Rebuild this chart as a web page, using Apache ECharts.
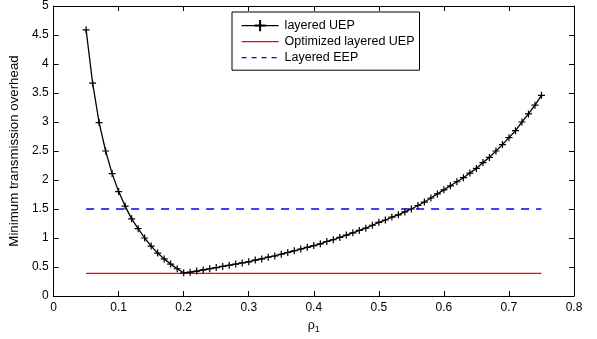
<!DOCTYPE html>
<html lang="en">
<head>
  <meta charset="UTF-8">
  <title>Minimum transmission overhead vs rho1</title>
  <script src="https://cdn.jsdelivr.net/npm/echarts@6/dist/echarts.min.js"></script>
  <style>
    body { margin: 0; background: #ffffff; }
    #main { width: 597px; height: 339px; }
  </style>
</head>
<body>
  <div id="main"></div>
  <script>
    // rho_1 sample points (x)
    var rho = [0.05, 0.06, 0.07, 0.08, 0.09, 0.10, 0.11, 0.12, 0.13, 0.14,
               0.15, 0.16, 0.17, 0.18, 0.19, 0.20, 0.21, 0.22, 0.23, 0.24,
               0.25, 0.26, 0.27, 0.28, 0.29, 0.30, 0.31, 0.32, 0.33, 0.34,
               0.35, 0.36, 0.37, 0.38, 0.39, 0.40, 0.41, 0.42, 0.43, 0.44,
               0.45, 0.46, 0.47, 0.48, 0.49, 0.50, 0.51, 0.52, 0.53, 0.54,
               0.55, 0.56, 0.57, 0.58, 0.59, 0.60, 0.61, 0.62, 0.63, 0.64,
               0.65, 0.66, 0.67, 0.68, 0.69, 0.70, 0.71, 0.72, 0.73, 0.74,
               0.75];
    // layered UEP overhead
    var layeredUEP = [4.59, 3.67, 2.99, 2.50, 2.11, 1.80, 1.55, 1.33, 1.16, 1.00,
                      0.86, 0.74, 0.64, 0.55, 0.47, 0.40, 0.41, 0.43, 0.45, 0.47,
                      0.49, 0.51, 0.53, 0.55, 0.57, 0.59, 0.62, 0.64, 0.67, 0.69,
                      0.72, 0.75, 0.78, 0.81, 0.84, 0.87, 0.90, 0.94, 0.97, 1.01,
                      1.05, 1.09, 1.13, 1.17, 1.22, 1.27, 1.31, 1.36, 1.40, 1.45,
                      1.50, 1.56, 1.62, 1.69, 1.76, 1.83, 1.90, 1.97, 2.04, 2.12,
                      2.20, 2.30, 2.39, 2.50, 2.61, 2.73, 2.85, 3.00, 3.14, 3.29,
                      3.46];
    var optimizedUEP = 0.39;
    var layeredEEP = 1.5;
    var xRange = [0.05, 0.75];

    var font = 'Liberation Sans, Arial, sans-serif';

    var chart = echarts.init(document.getElementById('main'));

    var uepData = rho.map(function (x, i) { return [x, layeredUEP[i]]; });
    var optData = xRange.map(function (x) { return [x, optimizedUEP]; });
    var eepData = xRange.map(function (x) { return [x, layeredEEP]; });

    var plusSymbol = 'path://M0,5L10,5M5,0L5,10';

    function frameAxis(pos, max, interval) {
      return {
        type: 'value', position: pos,
        min: 0, max: max, interval: interval,
        axisLine: { show: true, onZero: false, lineStyle: { color: '#000', width: 1 } },
        axisTick: { show: true, inside: true, length: 5, lineStyle: { color: '#000' } },
        axisLabel: { show: false },
        splitLine: { show: false }
      };
    }

    var option = {
      backgroundColor: '#ffffff',
      animation: false,
      textStyle: { fontFamily: font },
      grid: { left: 53, right: 23, top: 5, bottom: 43 },
      legend: {
        orient: 'vertical',
        left: 232,
        top: 12,
        padding: [7, 5, 6, 9],
        itemGap: 3,
        itemWidth: 37,
        itemHeight: 14,
        borderColor: '#000',
        borderWidth: 1,
        backgroundColor: '#fff',
        textStyle: { fontFamily: font, fontSize: 12.5, color: '#000', padding: [0, 0, 0, 1] },
        data: [
          { name: 'layered UEP', lineStyle: { width: 1.2 } },
          { name: 'Optimized layered UEP', itemStyle: { opacity: 0 }, lineStyle: { width: 1.2 } },
          { name: 'Layered EEP', itemStyle: { opacity: 0 }, lineStyle: { width: 1.2, type: [5, 5] } }
        ]
      },
      xAxis: [{
        type: 'value',
        min: 0, max: 0.8, interval: 0.1,
        name: '{r|ρ}{s|1}',
        nameLocation: 'middle',
        nameGap: 20,
        nameTextStyle: {
          rich: {
            r: { fontFamily: font, fontSize: 12.5, color: '#000' },
            s: { fontFamily: font, fontSize: 9, color: '#000', verticalAlign: 'bottom', padding: [8, 0, 0, 0] }
          }
        },
        axisLine: { onZero: false, lineStyle: { color: '#000', width: 1 } },
        axisTick: { inside: true, length: 5, lineStyle: { color: '#000' } },
        axisLabel: { color: '#000', fontSize: 12, margin: 6 },
        splitLine: { show: false }
      }, frameAxis('top', 0.8, 0.1)],
      yAxis: [{
        type: 'value',
        min: 0, max: 5, interval: 0.5,
        name: 'Minimum transmission overhead',
        nameLocation: 'middle',
        nameGap: 23,
        nameTextStyle: { color: '#000', fontSize: 13.3, fontFamily: font },
        axisLine: { show: true, onZero: false, lineStyle: { color: '#000', width: 1 } },
        axisTick: { show: true, inside: true, length: 5, lineStyle: { color: '#000' } },
        axisLabel: { color: '#000', fontSize: 12, margin: 5 },
        splitLine: { show: false }
      }, frameAxis('right', 5, 0.5)],
      series: [{
        name: 'layered UEP',
        type: 'line',
        data: uepData,
        symbol: plusSymbol,
        symbolSize: 7,
        showAllSymbol: true,
        lineStyle: { color: '#000', width: 1.3 },
        itemStyle: { color: '#000', borderColor: '#000', borderWidth: 1.2 },
        z: 3
      }, {
        name: 'Optimized layered UEP',
        type: 'line',
        data: optData,
        symbol: 'none',
        lineStyle: { color: '#ff0000', width: 1.3 },
        itemStyle: { color: '#ff0000' }
      }, {
        name: 'Layered EEP',
        type: 'line',
        data: eepData,
        symbol: 'none',
        lineStyle: { color: '#0000ff', width: 1.3, type: [8, 7] },
        itemStyle: { color: '#0000ff' }
      }]
    };

    chart.setOption(option);
  </script>
</body>
</html>
